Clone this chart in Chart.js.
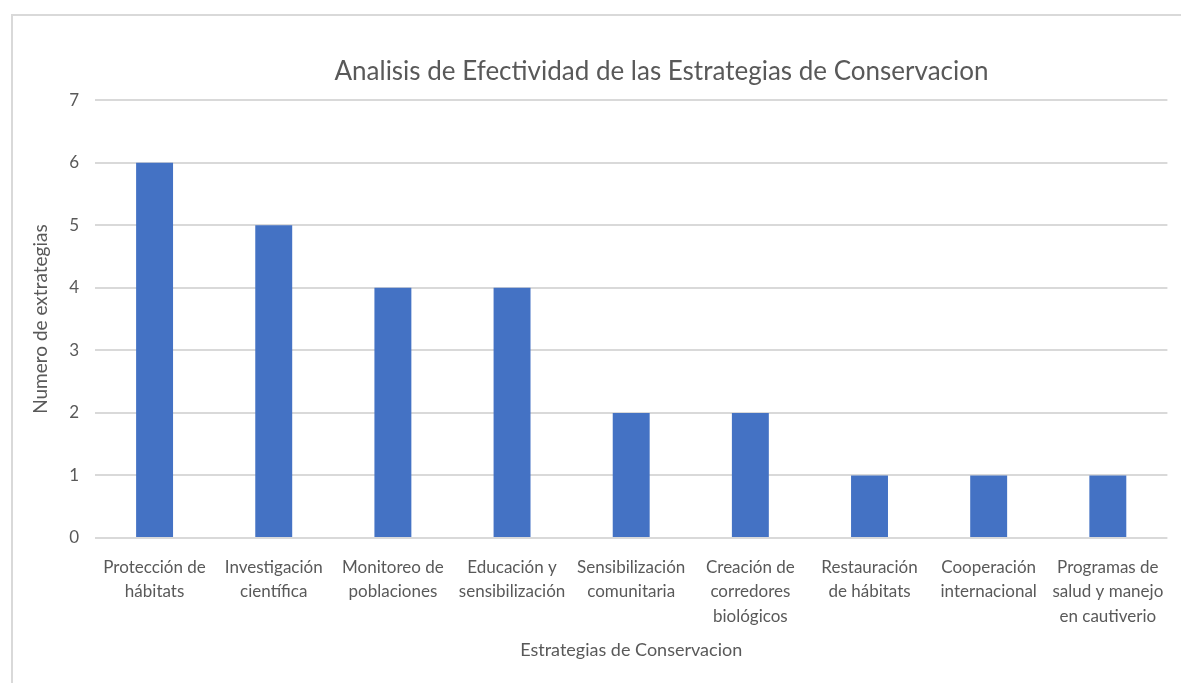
<!DOCTYPE html>
<html>
<head>
<meta charset="utf-8">
<script src="https://cdn.jsdelivr.net/npm/chart.js@4"></script>
<style>
  html, body { margin: 0; padding: 0; background: #fff; overflow: hidden; }
  #frame { position: absolute; left: 11px; top: 14px; width: 1200px; height: 700px;
           border-left: 2px solid #d9d9d9; border-top: 2px solid #d9d9d9; }
  #wrap { position: absolute; left: 0; top: 0; width: 1181px; height: 683px; }
</style>
</head>
<body>
<div id="frame"></div>
<div id="wrap"><canvas id="chart" width="1181" height="683"></canvas></div>
<script>
const categories = [
  ['Protección de', 'hábitats'],
  ['Investigación', 'científica'],
  ['Monitoreo de', 'poblaciones'],
  ['Educación y', 'sensibilización'],
  ['Sensibilización', 'comunitaria'],
  ['Creación de', 'corredores', 'biológicos'],
  ['Restauración', 'de hábitats'],
  ['Cooperación', 'internacional'],
  ['Programas de', 'salud y manejo', 'en cautiverio']
];
const counts = [6, 5, 4, 4, 2, 2, 1, 1, 1];

const textColor = '#595959';
const gridColor = '#d9d9d9';
const fontFamily = 'Lato, "Open Sans", sans-serif';

// el titulo va un poco a la derecha, como en el original
const shiftTitle = {
  id: 'shiftTitle',
  afterLayout(chart) {
    if (chart.titleBlock) {
      chart.titleBlock.left += 65;
      chart.titleBlock.right += 65;
    }
  }
};

const ctx = document.getElementById('chart').getContext('2d');
new Chart(ctx, {
  type: 'bar',
  data: {
    labels: categories,
    datasets: [{
      label: 'Numero de extrategias',
      data: counts,
      backgroundColor: '#4472c4',
      barPercentage: 0.31,
      categoryPercentage: 1
    }]
  },
  plugins: [shiftTitle],
  options: {
    responsive: false,
    animation: false,
    layout: { padding: { left: 25, right: 13, top: 0, bottom: 18 } },
    plugins: {
      legend: { display: false },
      tooltip: { enabled: false },
      title: {
        display: true,
        text: 'Analisis de Efectividad de las Estrategias de Conservacion',
        color: textColor,
        font: { family: fontFamily, size: 26, weight: 'normal' },
        padding: { top: 56, bottom: 13 }
      }
    },
    scales: {
      x: {
        grid: { display: false, drawTicks: false },
        border: { display: false },
        ticks: { color: textColor, font: { family: fontFamily, size: 17, lineHeight: 1.45 }, padding: 17, maxRotation: 0, autoSkip: false },
        title: { display: true, text: 'Estrategias de Conservacion', color: textColor,
                 font: { family: fontFamily, size: 18 }, padding: { top: 4, bottom: 4 } },
        afterFit: s => { s.height = 127; }
      },
      y: {
        min: 0, max: 7,
        ticks: { stepSize: 1, color: textColor, font: { family: fontFamily, size: 17 }, padding: 16 },
        grid: { color: gridColor, lineWidth: 2, drawTicks: false },
        border: { display: false },
        title: { display: true, text: 'Numero de extrategias', color: textColor,
                 font: { family: fontFamily, size: 19 }, padding: { top: 4, bottom: 4 } },
        afterFit: s => { s.width = 70; }
      }
    }
  }
});
</script>
</body>
</html>
